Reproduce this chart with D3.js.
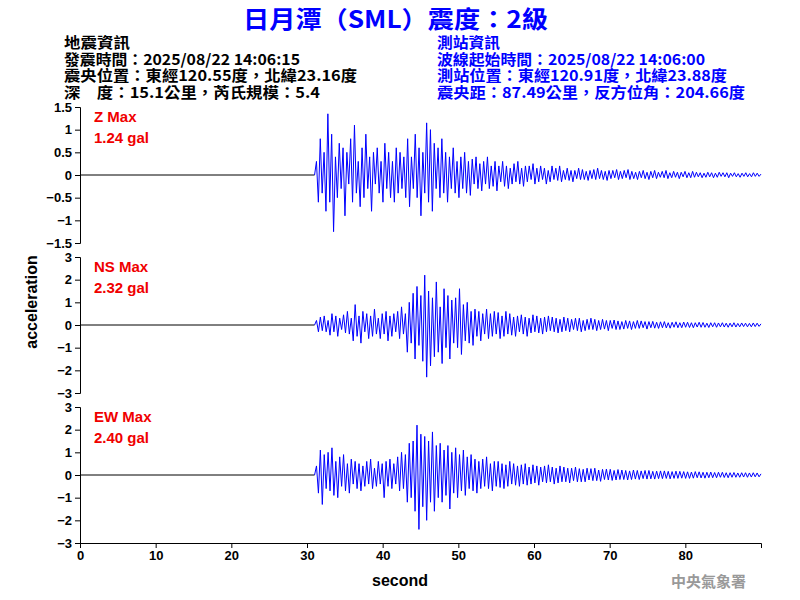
<!DOCTYPE html><html><head><meta charset="utf-8"><script src="https://cdn.jsdelivr.net/npm/d3@7"></script>
<style>body{margin:0;background:#fff}text{font-family:"Liberation Sans",Arial,sans-serif}</style></head><body><svg id="c" width="800" height="600"></svg><script>
const startT=31, endT=90;
const zVals=[0,0.3,-0.6,0.8, -0.4,0.5,-0.8,1.35, -0.6,0.9,-1.25,0.4, -0.5,0.7,-0.3,0.6, -0.9,0.5,-0.2,0.8, -0.6,1.1,-0.4,0.3, -0.7,0.6,-0.5,0.9, -0.3,0.4,-0.8,0.5, -0.2,0.6,-0.4,0.3,
-0.6,0.7,-0.3,0.5, -0.5,0.3,-0.6,0.6, -0.4,0.5,-0.3,0.4, -0.5,0.8,-0.7,0.4, -0.3,0.9,-0.5,0.6, -0.9,0.5,-0.4,1.15, -0.6,1.0,-0.8,0.7, -0.3,0.6,-0.5,0.8, -0.4,0.5,-0.6,0.4,
-0.3,0.6,-0.4,0.3, -0.5,0.4,-0.3,0.5, -0.4,0.3,-0.45,0.35, -0.2,0.4,-0.3,0.25, -0.35,0.3,-0.2,0.4, -0.3,0.2,-0.25,0.3, -0.35,0.2,-0.15,0.3, -0.25,0.2,-0.3,0.15, -0.2,0.25,-0.15,0.3,
-0.2,0.15,-0.25,0.2, -0.15,0.2,-0.1,0.25, -0.2,0.15,-0.15,0.2, -0.1,0.15,-0.2,0.1, -0.15,0.2,-0.1,0.15, -0.12,0.2,-0.15,0.1, -0.1,0.15,-0.12,0.1, -0.15,0.1,-0.08,0.15, -0.1,0.12,-0.1,0.08,
-0.12,0.1,-0.08,0.12, -0.1,0.15,-0.08,0.1, -0.1,0.08,-0.12,0.1, -0.08,0.1,-0.06,0.12, -0.1,0.08,-0.08,0.1, -0.06,0.12,-0.1,0.08, -0.08,0.06,-0.1,0.08, -0.06,0.1,-0.08,0.06, -0.1,0.08,-0.06,0.1,
-0.08,0.06,-0.05,0.08, -0.06,0.1,-0.08,0.05, -0.06,0.08,-0.05,0.06, -0.08,0.06,-0.04,0.08, -0.06,0.05,-0.06,0.08, -0.05,0.06,-0.04,0.05, -0.06,0.04,-0.05,0.06, -0.04,0.05,-0.06,0.04, -0.05,0.06,-0.03,0.05,
-0.04,0.05,-0.06,0.04, -0.03,0.05,-0.04,0.03, -0.05,0.04,-0.03,0.05, -0.04,0.03,-0.04,0.05, -0.03,0.04,-0.03,0.02];
const nsVals=[0,0.2,-0.3,0.35, -0.25,0.4,-0.3,0.2, -0.45,0.5,-0.3,0.4, -0.5,0.3,-0.2,0.45, -0.35,0.6,-0.4,0.3, -0.7,0.9,-0.5,0.4, -0.8,0.6,-0.3,0.5, -0.6,0.4,-0.5,0.7, -0.4,0.3,-0.6,0.5,
-0.4,0.6,-0.7,0.4, -0.5,0.5,-0.3,0.6, -0.6,0.8,-0.4,0.5, -1.2,1.0,-0.8,1.4, -1.5,1.7,-0.9,1.3, -1.6,2.2,-2.3,1.5, -1.8,1.2,-1.4,1.9, -1.2,0.8,-1.7,1.6, -1.0,1.3,-1.5,1.1,
-0.8,1.2,-1.0,1.6, -1.3,0.9,-0.7,1.0, -0.8,0.6,-0.9,0.7, -0.5,0.6,-0.7,0.5, -0.4,0.7,-0.6,0.5, -0.5,0.6,-0.4,0.55, -0.6,0.4,-0.5,0.6, -0.4,0.5,-0.45,0.35, -0.5,0.4,-0.3,0.45,
-0.4,0.35,-0.5,0.3, -0.35,0.45,-0.3,0.4, -0.35,0.3,-0.4,0.35, -0.3,0.4,-0.25,0.35, -0.3,0.3,-0.35,0.25, -0.3,0.35,-0.25,0.3, -0.3,0.25,-0.2,0.3, -0.25,0.3,-0.3,0.2, -0.25,0.25,-0.2,0.3,
-0.2,0.25,-0.25,0.2, -0.2,0.25,-0.18,0.2, -0.25,0.2,-0.15,0.22, -0.2,0.18,-0.2,0.15, -0.18,0.2,-0.15,0.18, -0.2,0.15,-0.15,0.2, -0.15,0.18,-0.12,0.15, -0.18,0.15,-0.12,0.16, -0.14,0.12,-0.15,0.14,
-0.12,0.15,-0.13,0.1, -0.14,0.12,-0.1,0.14, -0.12,0.1,-0.12,0.13, -0.1,0.12,-0.11,0.1, -0.12,0.1,-0.09,0.12, -0.1,0.11,-0.1,0.08, -0.11,0.1,-0.08,0.1, -0.1,0.09,-0.08,0.1, -0.09,0.08,-0.1,0.08,
-0.08,0.1,-0.09,0.07, -0.08,0.09,-0.07,0.08, -0.08,0.07,-0.08,0.09, -0.07,0.08,-0.06,0.05];
const ewVals=[0,0.4,-0.8,1.1, -1.3,0.9,-0.6,1.0, -0.7,1.2,-0.9,0.6, -1.0,0.8,-0.5,0.9, -0.7,0.5,-0.8,0.7, -0.4,0.6,-0.6,0.5, -0.7,0.4,-0.5,0.6, -0.4,0.7,-0.6,0.3, -0.5,0.6,-0.4,0.5,
-1.0,0.6,-0.5,0.7, -0.6,0.5,-0.4,0.8, -0.7,1.0,-0.6,0.9, -1.2,1.4,-1.0,1.5, -1.6,2.2,-2.4,1.8, -1.4,1.7,-2.0,1.5, -1.2,1.9,-1.6,1.3, -1.0,1.4,-1.2,1.1, -0.9,1.3,-1.5,1.0,
-0.8,1.2,-1.0,0.9, -0.7,1.1,-0.9,0.8, -0.6,0.9,-0.7,0.7, -0.8,0.6,-0.6,0.7, -0.5,0.8,-0.6,0.5, -0.7,0.6,-0.5,0.6, -0.55,0.5,-0.6,0.45, -0.5,0.6,-0.4,0.5, -0.45,0.4,-0.5,0.45,
-0.4,0.5,-0.45,0.35, -0.4,0.45,-0.35,0.4, -0.45,0.35,-0.3,0.4, -0.35,0.45,-0.3,0.35, -0.4,0.3,-0.35,0.4, -0.3,0.35,-0.3,0.3, -0.35,0.3,-0.25,0.35, -0.3,0.28,-0.3,0.25, -0.3,0.3,-0.22,0.28,
-0.25,0.3,-0.25,0.22, -0.28,0.25,-0.2,0.26, -0.22,0.25,-0.24,0.2, -0.22,0.24,-0.2,0.22, -0.2,0.2,-0.22,0.18, -0.2,0.22,-0.18,0.2, -0.2,0.18,-0.16,0.2, -0.18,0.2,-0.17,0.16, -0.18,0.17,-0.16,0.18,
-0.16,0.18,-0.15,0.16, -0.17,0.15,-0.15,0.17, -0.15,0.16,-0.14,0.15, -0.15,0.14,-0.15,0.13, -0.14,0.15,-0.12,0.14, -0.13,0.12,-0.14,0.12, -0.12,0.13,-0.12,0.11, -0.12,0.12,-0.1,0.12, -0.11,0.1,-0.12,0.1,
-0.1,0.11,-0.1,0.09, -0.1,0.1,-0.09,0.1, -0.1,0.09,-0.09,0.1, -0.08,0.09,-0.08,0.05];
const xTicks=[0,10,20,30,40,50,60,70,80];
const zTicks=[-1.5,-1,-0.5,0,0.5,1,1.5];
const hTicks=[-3,-2,-1,0,1,2,3];
const panels=[
 {vals:zVals,dom:[-1.5,1.5],ticks:zTicks,top:107,name:"Z Max",max:"1.24 gal"},
 {vals:nsVals,dom:[-3,3],ticks:hTicks,top:257,name:"NS Max",max:"2.32 gal"},
 {vals:ewVals,dom:[-3,3],ticks:hTicks,top:407,name:"EW Max",max:"2.40 gal"}];
const svg=d3.select("#c");
const x=d3.scaleLinear().domain([0,90]).range([80,761]);
const ph=136;
panels.forEach((p,k)=>{
  const y=d3.scaleLinear().domain(p.dom).range([p.top+ph,p.top]);
  const ax=svg.append("g").attr("transform","translate(80,0)").call(d3.axisLeft(y).tickValues(p.ticks).tickSize(5).tickFormat(d3.format("")));
  ax.selectAll("text").style("font-size","13px").style("font-weight","bold").attr("fill","#000");
  ax.select(".domain").attr("stroke","#000");
  const n=p.vals.length, step=(endT-startT)/(n-1);
  const pts=[[0,0]].concat(p.vals.map((v,i)=>[startT+i*step,v]));
  const line=d3.line().x(d=>x(d[0])).y(d=>y(d[1]));
  svg.append("path").attr("d",line(pts.slice(0,2))).attr("stroke","#000").attr("fill","none");
  svg.append("path").attr("d",line(pts.slice(1))).attr("stroke","#0000ff").attr("fill","none").attr("stroke-width",1);
  svg.append("text").attr("x",94).attr("y",p.top+15).text(p.name).attr("fill","#f00000").style("font-size","15px").style("font-weight","bold");
  svg.append("text").attr("x",94).attr("y",p.top+36).text(p.max).attr("fill","#f00000").style("font-size","15px").style("font-weight","bold");
});
const xa=svg.append("g").attr("transform","translate(0,543)").call(d3.axisBottom(x).tickValues(xTicks).tickSize(5));
xa.selectAll("text").style("font-size","13px").style("font-weight","bold").attr("fill","#000");
svg.append("text").attr("x",400).attr("y",586).attr("text-anchor","middle").text("second").style("font-size","16px").style("font-weight","bold");
svg.append("text").attr("transform","translate(37,302) rotate(-90)").attr("text-anchor","middle").text("acceleration").style("font-size","16px").style("font-weight","bold");
svg.append("text").attr("x",243).attr("y",28).attr("textLength",305).attr("lengthAdjust","spacingAndGlyphs").attr("fill","#0000ff").style("font-size","24px").style("font-weight","bold").style("font-family","Noto Sans CJK TC").text("日月潭（SML）震度：2級");
const L=["地震資訊","發震時間：2025/08/22 14:06:15","震央位置：東經120.55度，北緯23.16度","深　度：15.1公里，芮氏規模：5.4"];
const R=["測站資訊","波線起始時間：2025/08/22 14:06:00","測站位置：東經120.91度，北緯23.88度","震央距：87.49公里，反方位角：204.66度"];
const LW=[66,236,293,256], RW=[63,268,290,308];
L.forEach((t,i)=>svg.append("text").attr("x",64).attr("y",48+i*16.5).attr("textLength",LW[i]).attr("lengthAdjust","spacingAndGlyphs").text(t).style("font-size","15px").style("font-weight","bold").style("font-family","Noto Sans CJK TC"));
R.forEach((t,i)=>svg.append("text").attr("x",437).attr("y",48+i*16.5).attr("textLength",RW[i]).attr("lengthAdjust","spacingAndGlyphs").text(t).attr("fill","#0000ff").style("font-size","15px").style("font-weight","bold").style("font-family","Noto Sans CJK TC"));
svg.append("text").attr("x",746).attr("y",587).attr("text-anchor","end").attr("fill","#999").style("font-size","15px").style("font-weight","bold").style("font-family","Noto Sans CJK TC").text("中央氣象署");
</script></body></html>
